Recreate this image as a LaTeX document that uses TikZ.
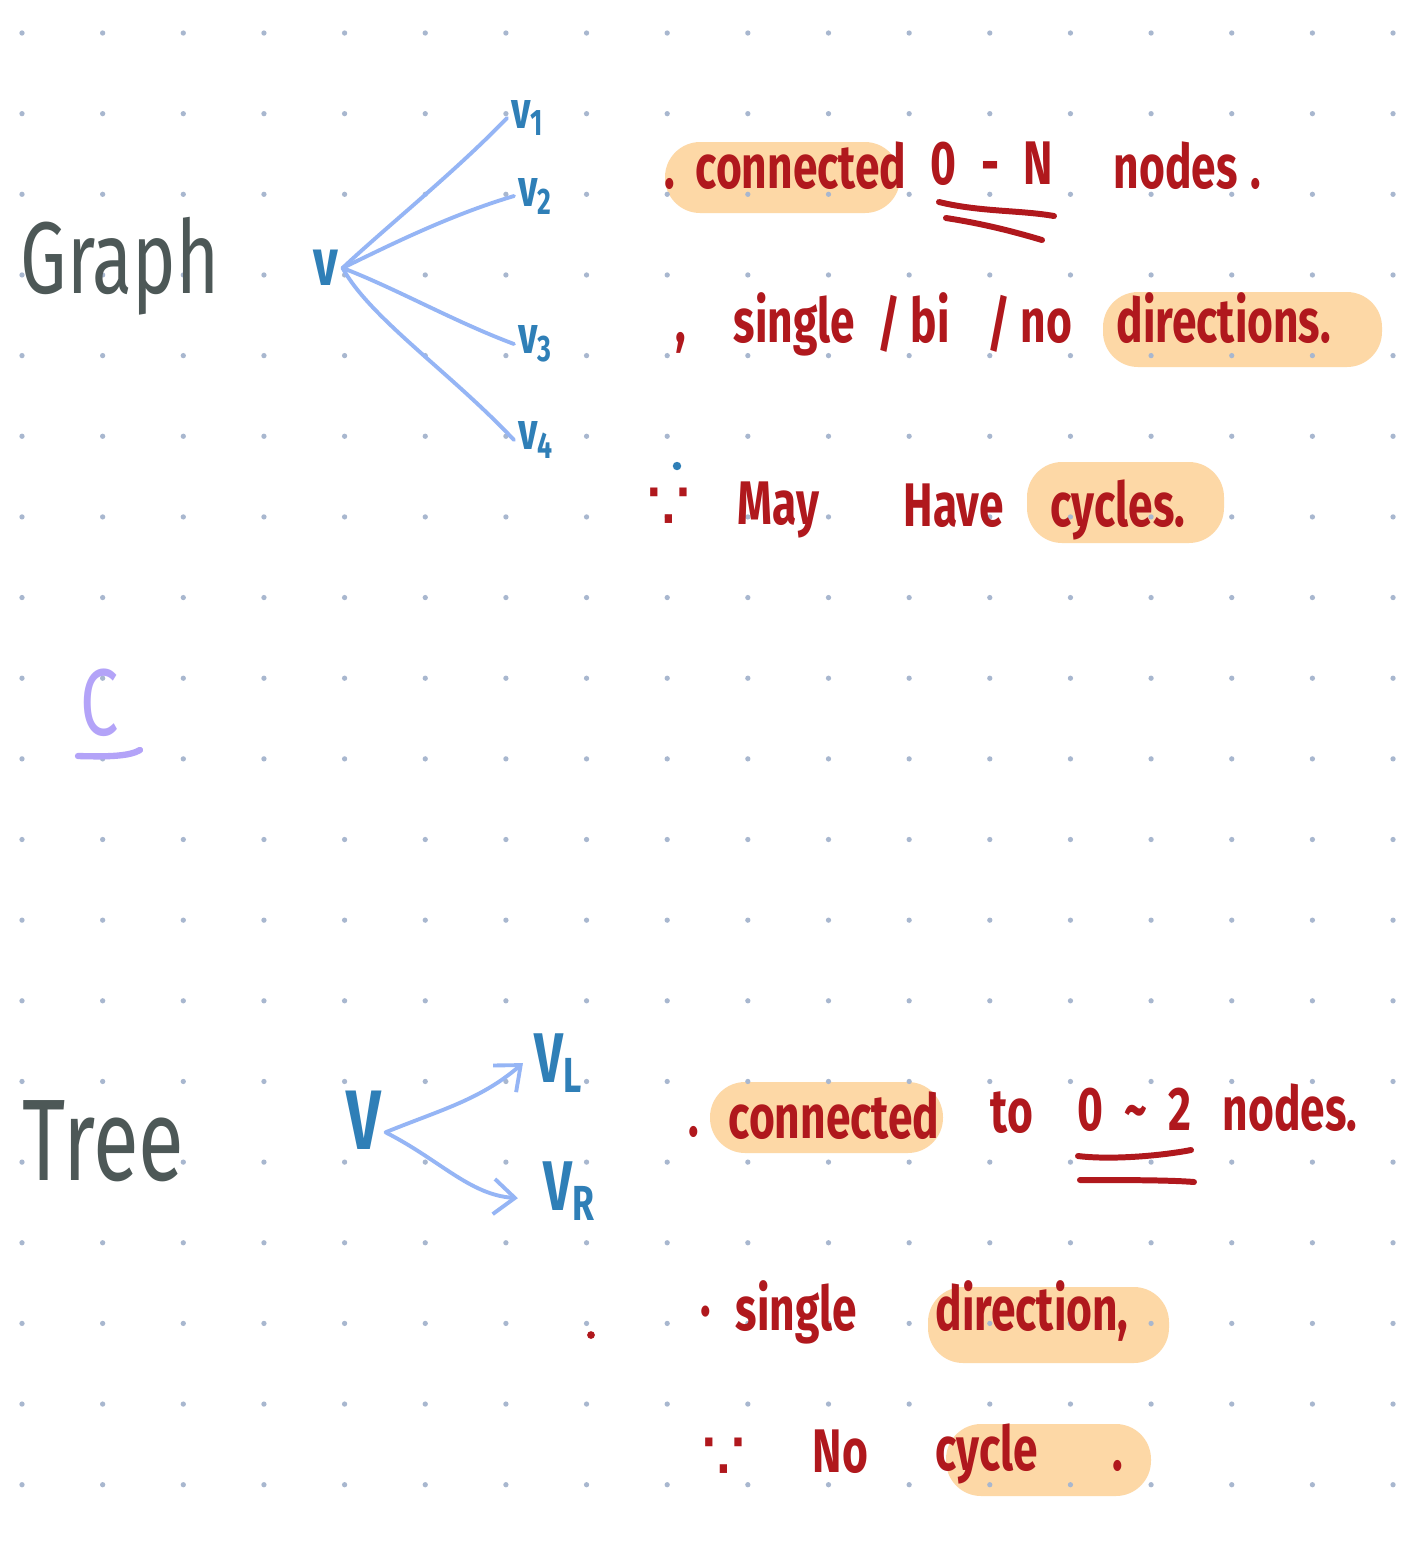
\documentclass[tikz,border=0pt]{standalone}
\usepackage{fontspec}
\usepackage{xcolor}
\usepackage{tikz}
\usetikzlibrary{positioning,calc,arrows.meta}

\newfontfamily\handfont[FakeStretch=0.72]{Fira Sans}
\newfontfamily\symbfont{DejaVu Sans}

\definecolor{notered}{HTML}{B0181D}
\definecolor{hlorange}{HTML}{FDD8A6}
\definecolor{vblue}{HTML}{2F7FB7}
\definecolor{edgeblue}{HTML}{95B5F5}
\definecolor{titlegray}{HTML}{4D5857}
\definecolor{cpurple}{HTML}{B3A3F8}
\definecolor{griddot}{HTML}{A8B7CF}

\tikzset{
  note/.style={text=notered, inner sep=0pt, anchor=base west,
    font=\handfont\bfseries\fontsize{17.5}{21}\selectfont},
  therefore/.style={text=notered, inner sep=0pt, anchor=base west,
    font=\symbfont\fontsize{20}{24}\selectfont},
  title/.style={text=titlegray, inner sep=0pt, anchor=base west,
    font=\handfont\fontsize{29}{34}\selectfont},
  vlabel/.style={text=vblue, inner sep=1pt,
    font=\handfont\bfseries\fontsize{15}{18}\selectfont},
  graphedge/.style={edgeblue, line width=1.1pt, line cap=round},
  hilite/.style={fill=hlorange, rounded corners=10pt},
  uline/.style={notered, line width=1.7pt, line cap=round}
}

\begin{document}
\begin{tikzpicture}[x=0.01cm, y=-0.01cm]
    \fill[white] (0,0) rectangle (1414,1544);
    \useasboundingbox (0,0) rectangle (1414,1544);

    % highlighter marks
    \fill[hilite] (665,142) rectangle (900,213);
    \fill[hilite] (1103,292) rectangle (1382,367);
    \fill[hilite] (1027,462) rectangle (1224,543);
    \fill[hilite] (710,1082) rectangle (943,1153);
    \fill[hilite] (928,1287) rectangle (1169,1363);
    \fill[hilite] (946,1424) rectangle (1151,1496);

    % dotted paper
    \foreach \i in {0,...,17}
        \foreach \j in {0,...,18}
            \fill[griddot] ({22+80.65*\i},{33+80.65*\j}) circle[radius=0.75pt];

    % Graph
    \node[title] (graph) at (20,293) {Graph};
    \node[vlabel, font=\handfont\bfseries\fontsize{19}{22}\selectfont] (gv) at (326,268) {v};
    \node[vlabel, anchor=west] (gv1) at (507,118) {v\textsubscript{1}};
    \node[vlabel, anchor=west] (gv2) at (514,196) {v\textsubscript{2}};
    \node[vlabel, anchor=west] (gv3) at (514,344) {v\textsubscript{3}};
    \node[vlabel, anchor=west] (gv4) at (514,440) {v\textsubscript{4}};
    \draw[graphedge] (gv.east) .. controls (385,228) and (455,172) .. (gv1.west);
    \draw[graphedge] (gv.east) .. controls (390,245) and (450,215) .. (gv2.west);
    \draw[graphedge] (gv.east) .. controls (395,288) and (455,322) .. (gv3.west);
    \draw[graphedge] (gv.east) .. controls (370,318) and (450,372) .. (gv4.west);

    \node[note] (gdot) at (664,188) {.};
    \node[note] (gconn) at (695,188) {connected};
    \node[note] (grange) at (930,184) {0\hspace{7pt}-\hspace{7pt}N};
    \node[note] (gnodes) at (1113,188) {nodes};
    \node[note] (gstop) at (1250,188) {.};
    \draw[uline] (939,202) .. controls (980,212) and (1020,210) .. (1054,216);
    \draw[uline] (946,218) .. controls (985,224) and (1015,232) .. (1042,240);

    \node[note] (gcomma) at (675,342) {,};
    \node[note] (gsingle) at (733,342) {single};
    \node[note] (gslash1) at (877,345) {/};
    \node[note] (gbi) at (910,342) {bi};
    \node[note] (gslash2) at (987,345) {/};
    \node[note] (gno) at (1020,342) {no};
    \node[note] (gdir) at (1116,342) {directions.};

    \fill[vblue] (677,466) circle[radius=1.2pt];
    \node[therefore] (gthus) at (646,530) {∵};
    \node[note] (gmay) at (737,524) {May};
    \node[note] (ghave) at (903,526) {Have};
    \node[note] (gcyc) at (1050,526) {cycles.};

    % C
    \node[text=cpurple, inner sep=0pt, font=\handfont\fontsize{27}{30}\selectfont] (cmark) at (100,703) {C};
    \draw[cpurple, line width=1.8pt, line cap=round] (78,756) .. controls (110,757) and (130,756) .. (140,750);

    % Tree
    \node[title, font=\handfont\fontsize{33}{37}\selectfont] (tree) at (22,1180) {Tree};
    \node[vlabel, font=\handfont\bfseries\fontsize{24}{28}\selectfont] (tv) at (364,1120) {V};
    \node[vlabel, anchor=base west, font=\handfont\bfseries\fontsize{20}{24}\selectfont] (tvl) at (530,1082) {V\textsubscript{L}};
    \node[vlabel, anchor=base west, font=\handfont\bfseries\fontsize{20}{24}\selectfont] (tvr) at (539,1210) {V\textsubscript{R}};
    \draw[graphedge, -{Straight Barb[length=6pt,width=10pt]}]
        ([yshift=-3.5pt]tv.east) .. controls (440,1110) and (480,1100) .. ([xshift=-2pt]tvl.west);
    \draw[graphedge, -{Straight Barb[length=6pt,width=10pt]}]
        ([yshift=-3.5pt]tv.east) .. controls (440,1160) and (470,1195) .. ([xshift=-6pt,yshift=-2pt]tvr.west);

    \node[note] (tdot) at (688,1136) {.};
    \node[note] (tconn) at (728,1138) {connected};
    \node[note] (tto) at (990,1132) {to};
    \node[note] (trange) at (1077,1130) {0\hspace{6pt}\textasciitilde\hspace{6pt}2};
    \node[note] (tnodes) at (1222,1130) {nodes.};
    \draw[uline] (1078,1156) .. controls (1110,1160) and (1160,1156) .. (1191,1150);
    \draw[uline] (1080,1180) .. controls (1120,1180) and (1170,1180) .. (1194,1182);

    \fill[notered] (591,1335) circle[radius=1.1pt];
    \node[note] (tbullet) at (700,1330) {·};
    \node[note] (tsingle) at (735,1330) {single};
    \node[note] (tdir) at (935,1330) {direction,};

    \node[therefore] (tthus) at (701,1480) {∵};
    \node[note] (tno) at (812,1472) {No};
    \node[note] (tcyc) at (935,1470) {cycle};
    \node[note] (tstop) at (1112,1470) {.};
\end{tikzpicture}
\end{document}
